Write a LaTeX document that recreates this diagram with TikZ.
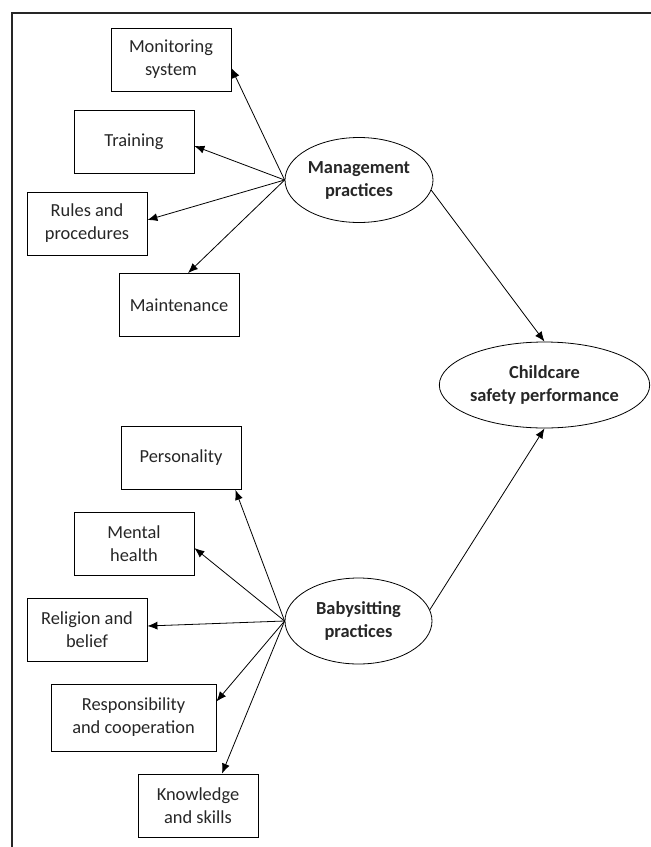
\documentclass[tikz,border=0pt]{standalone}
\usepackage{fontspec}
\setmainfont{Carlito}
\usetikzlibrary{shapes,arrows,arrows.meta}
\tikzset{%
	block/.style    = {draw, line width=0.8pt, rectangle, minimum height = 63pt,
		minimum width = 120pt, align=center, inner sep=2pt},
	latent/.style   = {draw, line width=0.8pt, ellipse, align=center,
		font=\fontsize{18.4}{23}\selectfont\bfseries, inner sep=0pt},
	link/.style     = {line width=0.8pt, -{Latex[length=10pt,width=8pt]}}
}

\begin{document}
\begin{tikzpicture}[x=1pt,y=-1pt,font=\fontsize{18.4}{23}\selectfont,text=black!85]
			\useasboundingbox (0,0) rectangle (651,847);
			\draw[line width=1.2pt,black!85] (651,13) -- (12,13) -- (12,847);

			% management side
			\node[block] (mon) at (171,59.5) {Monitoring\\system} ;
			\node[block] (train) at (134,141.5) {Training} ;
			\node[block] (rules) at (87,223.5) {Rules and\\procedures} ;
			\node[block] (maint) at (179,305) {Maintenance} ;
			\node[latent, minimum width=148pt, minimum height=85pt] (mgmt) at (359,180) {Management\\practices} ;

			% outcome
			\node[latent, minimum width=189pt, minimum height=86pt] (child) at (544.5,385) {Childcare\\safety performance} ;

			% babysitting side
			\node[block] (pers) at (181,458) {Personality} ;
			\node[block] (ment) at (134,543.5) {Mental\\health} ;
			\node[block] (relig) at (87,629.5) {Religion and\\belief} ;
			\node[block, minimum width=165pt, minimum height=67pt] (resp) at (133.5,717.5) {Responsibility\\and cooperation} ;
			\node[block] (know) at (198,805.5) {Knowledge\\and skills} ;
			\node[latent, minimum width=147pt, minimum height=86pt] (baby) at (358.5,621) {Babysitting\\practices} ;

			\draw[link] (mgmt.west) -- ([yshift=-8.5pt]mon.east);
			\draw[link] (mgmt.west) -- ([yshift=-4.5pt]train.east);
			\draw[link] (mgmt.west) -- ([yshift=3.5pt]rules.east);
			\draw[link] (mgmt.west) -- ([xshift=9pt]maint.north);
			\draw[link] (mgmt.-8) -- (child.north);

			\draw[link] (baby.west) -- ([xshift=-6pt]pers.south east);
			\draw[link] (baby.west) -- ([yshift=-4.5pt]ment.east);
			\draw[link] (baby.west) -- ([yshift=3.5pt]relig.east);
			\draw[link] (baby.west) -- ([yshift=16pt]resp.east);
			\draw[link] (baby.west) -- ([xshift=24pt]know.north);
			\draw[link] (baby.9) -- (child.south);
		\end{tikzpicture}
\end{document}
